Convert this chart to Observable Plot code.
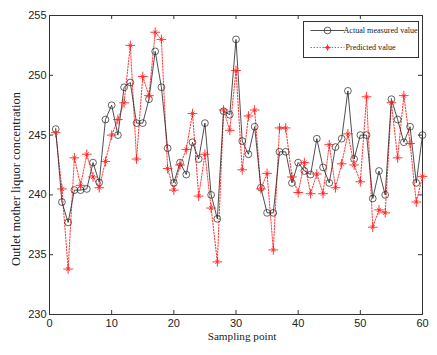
<!DOCTYPE html>
<html><head><meta charset="utf-8">
<script src="https://cdn.jsdelivr.net/npm/d3@7"></script>
<script src="https://cdn.jsdelivr.net/npm/@observablehq/plot@0.6"></script>
<style>
body{margin:0;background:#fff}
#chart{position:relative;width:437px;height:355px}
</style>
</head><body><div id="chart"></div>
<script>
const samplingPoints = [1,2,3,4,5,6,7,8,9,10,11,12,13,14,15,16,17,18,19,20,21,22,23,24,25,26,27,28,29,30,31,32,33,34,35,36,37,38,39,40,41,42,43,44,45,46,47,48,49,50,51,52,53,54,55,56,57,58,59,60];
const actualValues = [245.5,239.4,237.7,240.4,240.4,240.5,242.7,241.05,246.3,247.5,245.0,249.0,249.4,246.0,246.0,248.0,252.0,249.0,243.9,241.0,242.7,241.7,244.4,243.0,246.0,240.0,238.0,247.0,246.7,253.0,244.5,243.4,245.7,240.6,238.5,238.5,243.6,243.6,241.0,242.7,242.0,241.7,244.7,242.3,241.0,244.0,244.7,248.7,243.0,245.0,245.0,239.7,242.0,240.0,248.0,246.3,244.4,245.7,241.0,245.0];
const predictedValues = [245.2,240.5,233.8,243.1,240.8,243.4,241.5,240.6,242.8,245.0,246.3,247.7,252.5,243.0,249.9,248.3,253.6,253.0,242.2,240.4,242.5,243.8,246.8,239.9,243.4,238.9,234.4,247.1,245.4,250.4,242.1,246.6,247.1,240.5,241.8,235.4,245.6,245.6,241.5,240.2,242.7,240.1,241.75,240.1,244.2,240.6,242.6,245.1,242.5,241.1,248.2,237.3,238.75,238.5,247.7,243.1,248.3,244.3,239.4,241.55];
const xTicks = [0,10,20,30,40,50,60];
const yTicks = [230,235,240,245,250,255];
const xLabel = "Sampling point";
const yLabel = "Outlet mother liquor concentration";
const legendLabels = ["Actual measured value","Predicted value"];

const W = 437, H = 355, mL = 49, mR = 15, mT = 15, mB = 41;
const pw = W - mL - mR, ph = H - mT - mB, tk = 4;
const axisColor = "#333";
const serif = "'Liberation Serif','Times New Roman',serif";
const sans = "'Liberation Sans',Arial,sans-serif";

const rows = samplingPoints.map((x, i) => ({x, actual: actualValues[i], predicted: predictedValues[i]}));

const chart = Plot.plot({
  width: W, height: H,
  marginLeft: mL, marginRight: mR, marginTop: mT, marginBottom: mB,
  style: {background: "#fff", fontFamily: sans},
  x: {domain: [0, 60]},
  y: {domain: [230, 255]},
  marks: [
    Plot.axisX({ticks: xTicks, tickSize: 0, tickPadding: 5, fontSize: 11, fill: "#222", label: null}),
    Plot.axisY({ticks: yTicks, tickSize: 0, tickPadding: 3, fontSize: 11, fill: "#222", label: null}),
    Plot.ruleX(xTicks, {x: d => d, insetTop: ph - tk, stroke: axisColor}),
    Plot.ruleX(xTicks, {x: d => d, insetBottom: ph - tk, stroke: axisColor}),
    Plot.ruleY(yTicks, {y: d => d, insetRight: pw - tk, stroke: axisColor}),
    Plot.ruleY(yTicks, {y: d => d, insetLeft: pw - tk, stroke: axisColor}),
    Plot.frame({stroke: axisColor}),
    Plot.line(rows, {x: "x", y: "predicted", stroke: "#ff2020", strokeWidth: 0.9, strokeDasharray: "1.5,1.5"}),
    Plot.line(rows, {x: "x", y: "actual", stroke: "#222", strokeWidth: 0.8}),
    Plot.dot(rows, {x: "x", y: "actual", symbol: "circle", r: 3.4, stroke: "#222", strokeWidth: 0.7, fill: "none"}),
    Plot.dot(rows, {x: "x", y: "predicted", symbol: "plus", r: 3.2, stroke: "#ff2020", strokeWidth: 0.9}),
    Plot.dot(rows, {x: "x", y: "predicted", symbol: "times", r: 2.0, stroke: "#ff2020", strokeWidth: 0.8}),
    Plot.text([xLabel], {frameAnchor: "bottom", textAnchor: "middle", dx: 6, dy: 25, fontFamily: serif, fontSize: 11.2, fill: "#222"}),
    Plot.text([yLabel], {frameAnchor: "left", textAnchor: "middle", rotate: -90, dx: -34, dy: 14, fontFamily: serif, fontSize: 12.5, fill: "#222"})
  ]
});
document.getElementById("chart").appendChild(chart);

// legend (inside the plot box, MATLAB style)
const svg = d3.select(chart);
const lg = svg.append("g").attr("transform", "translate(303.5,21.5)").attr("text-anchor", "start");
lg.append("rect").attr("x", 0).attr("y", 0).attr("width", 115).attr("height", 36)
  .style("fill", "#fff").style("stroke", axisColor).style("stroke-width", "1px");
const items = [
  {label: legendLabels[0], stroke: "#222", dash: "none", y: 9},
  {label: legendLabels[1], stroke: "#ff2020", dash: "1.5,1.5", y: 26}
];
items.forEach((it, i) => {
  const g = lg.append("g").attr("transform", `translate(0,${it.y})`);
  g.append("line").attr("x1", 7).attr("x2", 41).attr("y1", 0).attr("y2", 0)
    .style("stroke", it.stroke).style("stroke-width", "0.8px").style("stroke-dasharray", it.dash);
  if (i === 0) {
    g.append("circle").attr("cx", 24).attr("cy", 0).attr("r", 3.4)
      .style("fill", "none").style("stroke", "#222").style("stroke-width", "0.7px");
  } else {
    g.append("path").attr("d", "M20.8,0H27.2M24,-3.2V3.2M22.6,-1.4L25.4,1.4M22.6,1.4L25.4,-1.4")
      .style("fill", "none").style("stroke", "#ff2020").style("stroke-width", "0.9px");
  }
  g.append("text").attr("x", i === 0 ? 40 : 42).attr("dy", "0.32em").attr("text-anchor", "start")
    .style("font-family", serif).style("font-size", "8.1px").style("fill", "#222").text(it.label);
});
</script>
</body></html>
